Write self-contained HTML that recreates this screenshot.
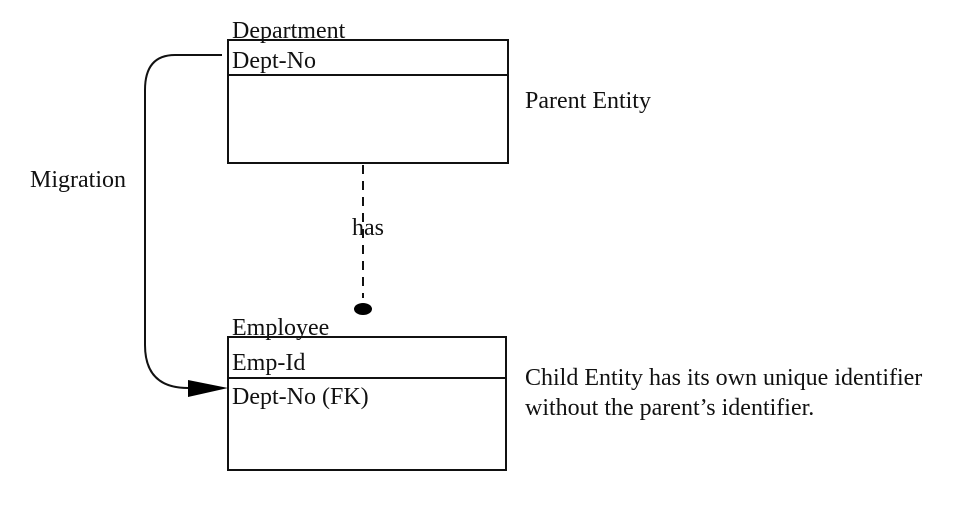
<!DOCTYPE html>
<html><head><meta charset="utf-8"><style>
body{margin:0;background:#fff;}
svg text{font-family:"Liberation Serif",serif;font-size:24px;fill:#111;}
</style></head><body>
<svg width="960" height="512" viewBox="0 0 960 512" xmlns="http://www.w3.org/2000/svg">
<g fill="none" stroke="#111" stroke-width="2">
<rect x="228" y="40" width="280" height="123"/>
<line x1="228" y1="75" x2="508" y2="75"/>
<rect x="228" y="337" width="278" height="133"/>
<line x1="228" y1="378" x2="506" y2="378"/>
<line x1="363" y1="165" x2="363" y2="298" stroke-dasharray="9,7"/>
<path d="M222,55 H175 Q145,55 145,90 V345 Q145,388 188,388"/>
</g>
<ellipse cx="363" cy="309" rx="9" ry="6" fill="#000"/>
<polygon points="188,380 228,388 188,397" fill="#000"/>
<text x="232" y="38">Department</text>
<text x="232" y="68">Dept-No</text>
<text x="525" y="108">Parent Entity</text>
<text x="30" y="187">Migration</text>
<text x="352" y="235">has</text>
<text x="232" y="335">Employee</text>
<text x="232" y="370">Emp-Id</text>
<text x="232" y="404">Dept-No (FK)</text>
<text x="525" y="385">Child Entity has its own unique identifier</text>
<text x="525" y="415">without the parent’s identifier.</text>
</svg>
</body></html>
